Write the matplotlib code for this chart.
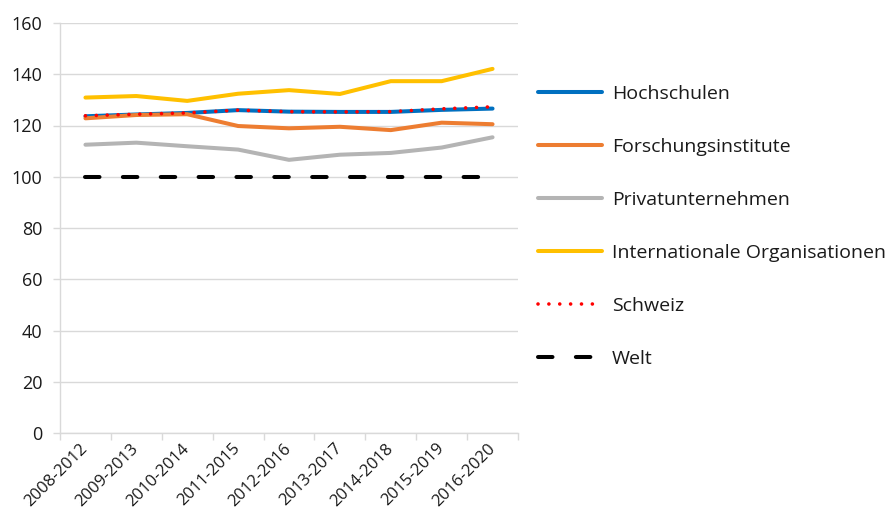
import matplotlib
matplotlib.use("Agg")
import matplotlib.pyplot as plt
import numpy as np

plt.rcParams['font.family'] = ['Open Sans', 'DejaVu Sans']

periods = ["2008-2012", "2009-2013", "2010-2014", "2011-2015", "2012-2016",
           "2013-2017", "2014-2018", "2015-2019", "2016-2020"]

hochschulen = [123.6, 124.3, 124.9, 126.0, 125.4, 125.3, 125.3, 126.1, 126.6]
forschungsinstitute = [122.8, 124.1, 124.4, 119.8, 118.9, 119.5, 118.2, 121.1, 120.5]
privatunternehmen = [112.5, 113.3, 111.9, 110.6, 106.6, 108.6, 109.3, 111.4, 115.4]
internationale_org = [130.9, 131.5, 129.6, 132.4, 133.8, 132.3, 137.3, 137.3, 142.1]
schweiz = [123.8, 124.4, 124.9, 126.0, 125.4, 125.3, 125.4, 126.5, 127.3]
welt = [100, 100, 100, 100, 100, 100, 100, 100, 100]

y_ticks = [0, 20, 40, 60, 80, 100, 120, 140, 160]

W, H = 890, 512
fig = plt.figure(figsize=(W / 100, H / 100), dpi=100)
ax = fig.add_axes([60 / W, (H - 433) / H, (518 - 60) / W, (433 - 23) / H])

x = np.arange(len(periods))
lw = 2.9

ax.plot(x, hochschulen, color="#0070C0", lw=lw, solid_capstyle="round",
        solid_joinstyle="round", label="Hochschulen", zorder=3)
ax.plot(x, forschungsinstitute, color="#ED7D31", lw=lw, solid_capstyle="round",
        solid_joinstyle="round", label="Forschungsinstitute", zorder=3)
ax.plot(x, privatunternehmen, color="#B4B4B4", lw=lw, solid_capstyle="round",
        solid_joinstyle="round", label="Privatunternehmen", zorder=3)
ax.plot(x, internationale_org, color="#FFC000", lw=lw, solid_capstyle="round",
        solid_joinstyle="round", label="Internationale Organisationen", zorder=3)
ax.plot(x, schweiz, color="#FF0000", lw=2.6, linestyle=(0, (0.01, 3.0)),
        dash_capstyle="round", label="Schweiz", zorder=4)
ax.plot(x, welt, color="#000000", lw=lw, linestyle=(0, (3.6, 5.8)),
        dash_capstyle="round", label="Welt", zorder=3)

ax.set_xlim(-0.5, len(periods) - 0.5)
ax.set_ylim(0, 160)
ax.set_yticks(y_ticks)
ax.set_yticklabels([str(v) for v in y_ticks])

ax.set_xticks(x)
ax.set_xticklabels(periods, rotation=45, ha="right", va="center",
                   rotation_mode="anchor")
ax.set_xticks(np.arange(len(periods) + 1) - 0.5, minor=True)

grid_col = "#D9D9D9"
ax.grid(axis="y", color=grid_col, lw=1.0, zorder=0)
ax.set_axisbelow(True)
for side in ("top", "right"):
    ax.spines[side].set_visible(False)
for side in ("left", "bottom"):
    ax.spines[side].set_color(grid_col)
    ax.spines[side].set_linewidth(1.0)

ax.tick_params(axis="y", length=5, color=grid_col, width=1.0, pad=7.5,
               labelsize=13, labelcolor="#1a1a1a")
ax.tick_params(axis="x", which="major", length=0, pad=9.5, labelsize=12,
               labelcolor="#1a1a1a")
ax.tick_params(axis="x", which="minor", length=5, color=grid_col, width=1.0)

fig.legend(loc="upper left", bbox_to_anchor=(538 / W, 1 - 85 / H),
           frameon=False, fontsize=14, handlelength=3.3, handletextpad=0.51,
           labelspacing=1.80, borderpad=0, borderaxespad=0,
           labelcolor="#1a1a1a")

fig.savefig("out.png", dpi=100)
